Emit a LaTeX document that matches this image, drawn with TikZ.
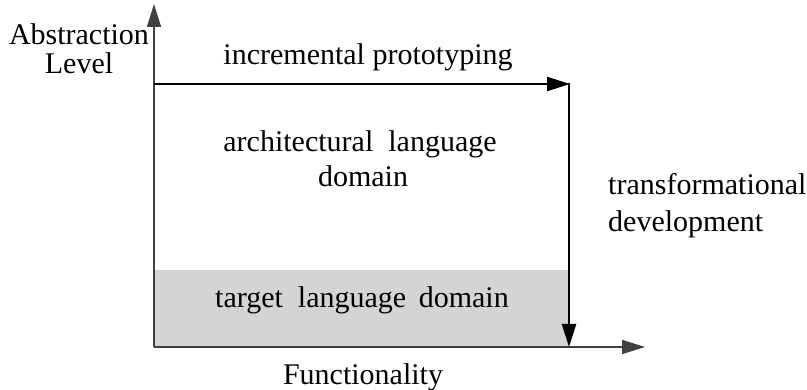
\documentclass[tikz,border=0pt]{standalone}
\usepackage{fontspec}
\setmainfont{Liberation Serif}
\usetikzlibrary{arrows.meta}
\begin{document}
\begin{tikzpicture}[x=1pt,y=-1pt,
  lbl/.style={font=\fontsize{30}{36}\selectfont, inner sep=0pt, anchor=base},
  axis/.style={draw=black!75, line width=1.6pt, -{Triangle[length=23pt,width=14pt]}},
  flow/.style={draw=black, line width=2.4pt, -{Triangle[length=23pt,width=14pt]}}]
  \useasboundingbox (0,0) rectangle (807,390);
  % shaded target-language region
  \fill[black!17] (154,270) rectangle (569,347);
  % corner points
  \coordinate (origin) at (154,347);
  \coordinate (ytop) at (154,4);
  \coordinate (xend) at (645,347);
  \coordinate (tl) at (154,84);
  \coordinate (tr) at (570,84);
  \coordinate (br) at (569,347);
  % axes
  \draw[axis] (origin) -- (ytop);
  \draw[axis] (origin) -- (xend);
  % development paths
  \draw[flow] (tl) -- (tr);
  \draw[flow, shorten <=-1.2pt] (569,84) -- (br);
  % labels
  \node[lbl] (abs) at (79,45) {Abstraction};
  \node[lbl] (lev) at (79,74) {Level};
  \node[lbl] (inc) at (368,65) {incremental prototyping};
  \node[lbl] (arch) at (360,152) {architectural\ \ language};
  \node[lbl] (dom) at (363,187) {domain};
  \node[lbl, anchor=base west] (trans) at (608,195) {transformational};
  \node[lbl, anchor=base west] (dev) at (608,232) {development};
  \node[lbl] (tgt) at (362,308) {target\ \ language\, domain};
  \node[lbl] (fun) at (363,385) {Functionality};
\end{tikzpicture}
\end{document}
